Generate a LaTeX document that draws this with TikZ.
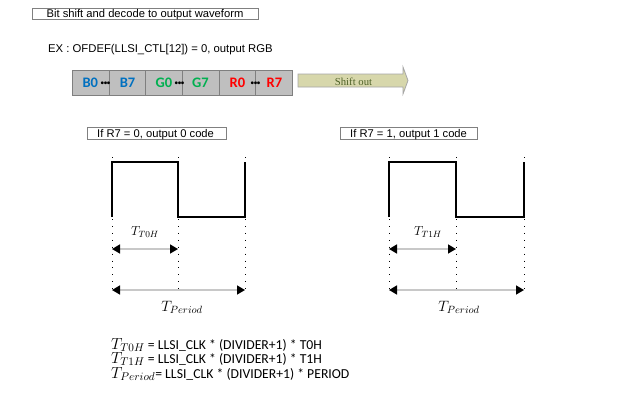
\RequirePackage{fix-cm}
\documentclass[tikz,border=0pt]{standalone}
\usepackage{fontspec}
\setmainfont{Liberation Sans}
\newfontfamily\carl{Carlito}
\newfontfamily\tnrfont{Liberation Serif}
\usetikzlibrary{arrows.meta}
\definecolor{cellgray}{HTML}{BFBFBF}
\definecolor{cellborder}{HTML}{7F7F7F}
\definecolor{bblue}{HTML}{0070C0}
\definecolor{bgreen}{HTML}{00B050}
\definecolor{bred}{HTML}{FF0000}
\definecolor{khaki}{HTML}{D7D7AB}
\definecolor{khakiborder}{HTML}{A6A6A6}
\definecolor{olivetext}{HTML}{4F6228}
\definecolor{dimgray}{HTML}{C8C8C8}
\definecolor{boxborder}{HTML}{808080}
\begin{document}
\begin{tikzpicture}[x=1pt,y=-1pt,
  lbox/.style={draw=boxborder, line width=0.8pt, inner sep=0pt, minimum height=12pt, text height=8pt, text depth=0pt, font=\fontsize{11.2}{13}\selectfont},
  ltext/.style={anchor=base west, inner sep=0pt, font=\fontsize{11.2}{13}\selectfont},
  cell/.style={draw=cellborder, fill=cellgray, line width=0.8pt, minimum width=36.67pt, minimum height=25pt, inner sep=0pt, anchor=west},
  bitlbl/.style={font=\carl\bfseries\fontsize{14.5}{16}\selectfont, anchor=base, inner sep=0pt},
  bitdots/.style={font=\carl\bfseries\fontsize{15}{16}\selectfont, anchor=base, inner sep=0pt},
  wave/.style={line width=1.8pt, line join=miter},
  guide/.style={line width=1pt, dash pattern=on 0.9pt off 6pt},
  dimline/.style={draw=dimgray, line width=1.5pt, {Triangle[color=black,fill=black,length=8pt,width=9pt]}-{Triangle[color=black,fill=black,length=8pt,width=9pt]}},
  mathlbl/.style={anchor=base, inner sep=0pt},
  formula/.style={anchor=base west, inner sep=0pt, font=\carl\fontsize{13.7}{16}\selectfont}
]
\useasboundingbox (0,0) rectangle (640,400);
\fill[white] (0,0) rectangle (640,400);

% title
\node[lbox, minimum width=226pt, minimum height=11pt] (title) at (145,13.5) {Bit shift and decode to output waveform};
\node[ltext, font=\fontsize{11.3}{13}\selectfont] (ex) at (48,52.7) {EX : OFDEF(LLSI\_CTL[12]) = 0, output RGB};

% bit cells
\foreach \i in {1,...,6} {
  \node[cell] (c\i) at ({72+36.67*(\i-1)},82.5) {};
}
\newcommand\mydots{·\kern-0.8pt·\kern-0.8pt·}
\node[bitlbl, text=bblue] (b0) at (90.3,87.7) {B0};
\node[bitdots] (d1) at (105.5,87.7) {\mydots};
\node[bitlbl, text=bblue] (b7) at (127.5,87.7) {B7};
\node[bitlbl, text=bgreen] (g0) at (164,87.7) {G0};
\node[bitdots] (d2) at (179.5,87.7) {\mydots};
\node[bitlbl, text=bgreen] (g7) at (200.5,87.7) {G7};
\node[bitlbl, text=bred] (r0) at (237.5,87.7) {R0};
\node[bitdots] (d3) at (255.5,87.7) {\mydots};
\node[bitlbl, text=bred] (r7) at (274.5,87.7) {R7};

% shift out arrow
\draw[fill=khaki, draw=khakiborder, line width=0.8pt] (298,74) -- (403,74) -- (403,67) -- (408,80.5) -- (403,94) -- (403,87) -- (298,87) -- cycle;
\node[anchor=base, inner sep=0pt, text=olivetext, font=\tnrfont\fontsize{10.7}{12}\selectfont] (shift) at (353.5,85.5) {Shift out};

% condition boxes
\node[lbox, minimum width=139pt] (cond0) at (156.5,133) {};
\node[ltext] (cond0t) at (97,137) {If R7 = 0, output 0 code};
\node[lbox, minimum width=137pt] (cond1) at (408.5,133) {};
\node[ltext] (cond1t) at (350,137) {If R7 = 1, output 1 code};

% guides
\foreach \n/\x in {la/112, lb/178, lc/245, ra/389, rb/456, rc/524} {
  \coordinate (\n t) at (\x,157);
  \coordinate (\n b) at (\x,293);
  \draw[guide] (\n t) -- (\n b);
}

% waveforms
\draw[wave] (112,217) -- (112,162) -- (178,162) -- (178,217) -- (245,217) -- (245,162);
\draw[wave] (389,217) -- (389,162) -- (456,162) -- (456,217) -- (524,217) -- (524,162);

% dimension arrows
\coordinate (h0a) at (112,249); \coordinate (h0b) at (178,249);
\coordinate (p0a) at (112,290); \coordinate (p0b) at (245,290);
\coordinate (h1a) at (389,249); \coordinate (h1b) at (456,249);
\coordinate (p1a) at (389,290); \coordinate (p1b) at (524,290);
\draw[dimline] (h0a) -- (h0b);
\draw[dimline] (p0a) -- (p0b);
\draw[dimline] (h1a) -- (h1b);
\draw[dimline] (p1a) -- (p1b);

\node[mathlbl, font=\fontsize{13}{15}\selectfont] (t0h) at (145,235.5) {$T_{T0H}$};
\node[mathlbl, font=\fontsize{13}{15}\selectfont] (t1h) at (428,235.5) {$T_{T1H}$};
\node[mathlbl, font=\fontsize{15}{17}\selectfont] (tp0) at (182,311.7) {$T_{Period}$};
\node[mathlbl, font=\fontsize{15}{17}\selectfont] (tp1) at (459,311.7) {$T_{Period}$};

% formulas
\node[formula] (f1) at (111,349) {{\fontsize{16}{18}\selectfont$T_{T0H}$} = LLSI\_CLK * (DIVIDER+1) * T0H};
\node[formula] (f2) at (111,363.5) {{\fontsize{16}{18}\selectfont$T_{T1H}$} = LLSI\_CLK * (DIVIDER+1) * T1H};
\node[formula] (f3) at (111,378) {{\fontsize{16}{18}\selectfont$T_{Period}$}= LLSI\_CLK * (DIVIDER+1) * PERIOD};
\end{tikzpicture}
\end{document}
